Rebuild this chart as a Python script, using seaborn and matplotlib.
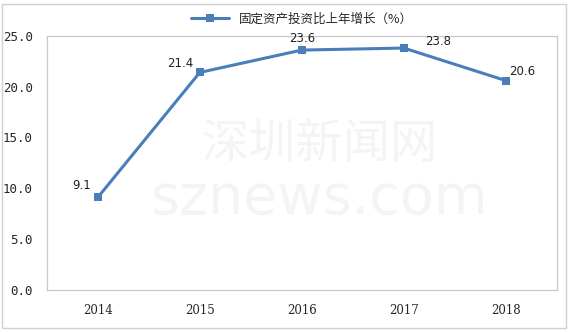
import matplotlib
matplotlib.use("Agg")
import matplotlib.pyplot as plt
import seaborn as sns
import pandas as pd
from matplotlib.patches import Rectangle

years = ["2014", "2015", "2016", "2017", "2018"]
growth = [9.1, 21.4, 23.6, 23.8, 20.6]
series_name = "固定资产投资比上年增长（%）"
yticks = [0.0, 5.0, 10.0, 15.0, 20.0, 25.0]

df = pd.DataFrame({"year": years, "value": growth, "series": series_name})

sns.set_theme(style="white")
plt.rcParams["font.family"] = ["Noto Sans CJK SC", "DejaVu Sans"]

fig = plt.figure(figsize=(5.71, 3.32), dpi=100)
ax = fig.add_axes([0.082, 0.127, 0.893, 0.765])

color = "#4a7ebb"
sns.lineplot(data=df, x="year", y="value", hue="series", palette=[color],
             marker="s", markersize=6, markeredgewidth=0, linewidth=2.2,
             ax=ax, sort=False)

ax.set_xlim(-0.5, 4.5)
ax.set_ylim(0, 25)
ax.set_yticks(yticks)
ax.set_yticklabels([f"{v:.1f}" for v in yticks], fontsize=9, family="DejaVu Sans Mono")
ax.set_xticks(range(len(years)))
ax.set_xticklabels(years, fontsize=8.5, family="DejaVu Serif")
ax.tick_params(axis="both", length=0, pad=10)
ax.tick_params(axis="y", pad=10)
ax.set_xlabel("")
ax.set_ylabel("")
for s in ax.spines.values():
    s.set_color("#c8c8c8")
    s.set_linewidth(0.9)

# data labels
offsets = [(-12, 4), (-14, 1.5), (0, 4), (25, 0), (12, 2)]
for i, (v, (dx, dy)) in enumerate(zip(growth, offsets)):
    ax.annotate(f"{v:.1f}", (i, v), xytext=(dx, dy), textcoords="offset points",
                ha="center", va="bottom", fontsize=8.5, family="DejaVu Sans", color="#222222")

# watermark
fig.text(0.56, 0.565, "深圳新闻网", fontsize=34, color="#f4f4f4", ha="center", va="center", zorder=0)
fig.text(0.56, 0.40, "sznews.com", fontsize=40, color="#f4f4f4", ha="center", va="center",
         family="DejaVu Sans", zorder=0)

leg = ax.legend(loc="lower center", bbox_to_anchor=(0.5, 1.02), frameon=False,
                fontsize=9, handlelength=3, borderaxespad=0)
for t in leg.get_texts():
    t.set_text(series_name)

# outer border
fig.patches.append(Rectangle((0.004, 0.012), 0.988, 0.975, transform=fig.transFigure,
                             fill=False, edgecolor="#d0d0d0", linewidth=1.0))

fig.savefig("out.png", dpi=100)
